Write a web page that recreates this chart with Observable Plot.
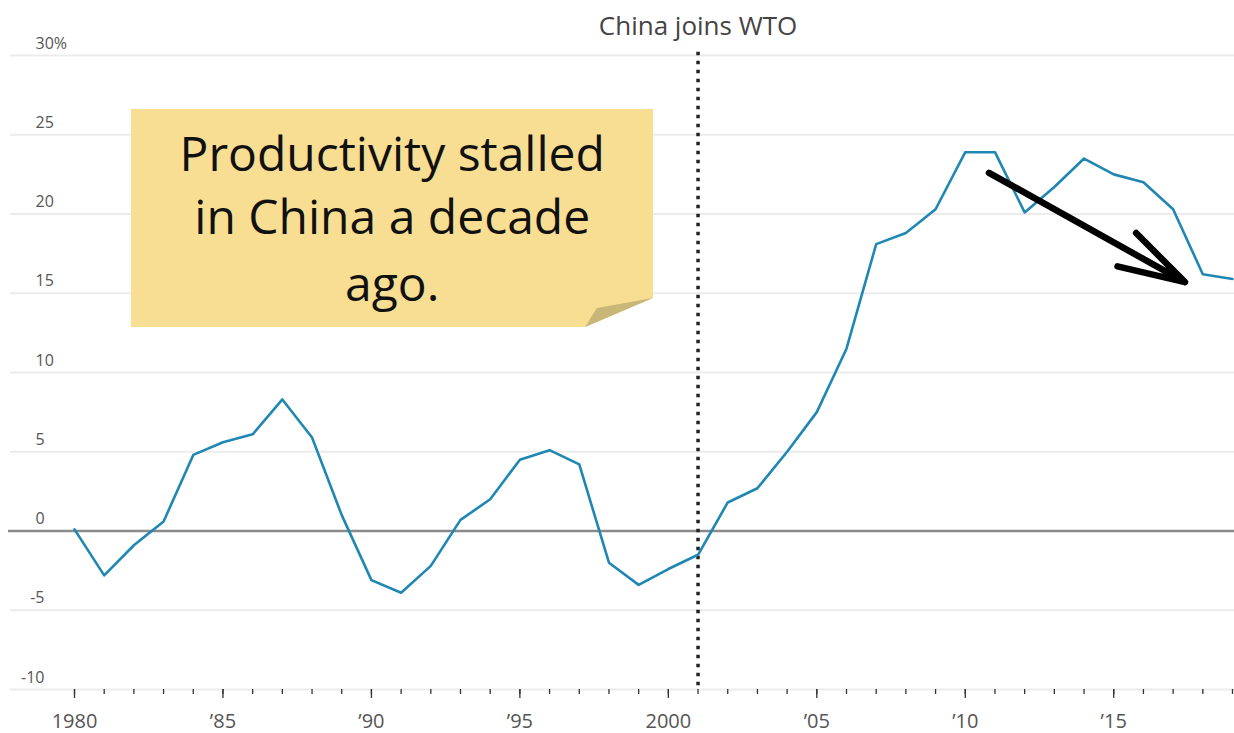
<!DOCTYPE html>
<html><head><meta charset="utf-8">
<script src="https://cdn.jsdelivr.net/npm/d3@7"></script>
<script src="https://cdn.jsdelivr.net/npm/@observablehq/plot@0.6"></script>
<style>
body{margin:0;background:#fff;}
#chart{width:1234px;height:733px;overflow:hidden;}
svg{font-family:"Open Sans",sans-serif;}
</style>
</head><body><div id="chart"></div>
<script>
// ---- data ----
const years = [1980,1981,1982,1983,1984,1985,1986,1987,1988,1989,1990,1991,1992,1993,1994,1995,1996,1997,1998,1999,
               2000,2001,2002,2003,2004,2005,2006,2007,2008,2009,2010,2011,2012,2013,2014,2015,2016,2017,2018,2019];
const values = [0.1,-2.8,-0.9,0.6,4.8,5.6,6.1,8.3,5.9,1.0,-3.1,-3.9,-2.2,0.7,2.0,4.5,5.1,4.2,-2.0,-3.4,
                -2.4,-1.5,1.8,2.7,5.0,7.5,11.5,18.1,18.8,20.3,23.9,23.9,20.1,21.7,23.5,22.5,22.0,20.3,16.2,15.9];
const yTicks = [-10,-5,0,5,10,15,20,25,30];
const yTickLabels = ["-10","-5","0","5","10","15","20","25","30%"];
const xMajor = [1980,1985,1990,1995,2000,2005,2010,2015];
const xMajorLabels = ["1980","\u201985","\u201990","\u201995","2000","\u201905","\u201910","\u201915"];
const xMinor = years;
const wtoYear = 2001;
const wtoLabel = "China joins WTO";
const noteLines = ["Productivity stalled","in China a decade","ago."];
const noteLineY = [23.7, 19.7, 15.5];
const noteCenterX = 1990.7;
// note outline (years / values) : x, bottom, top
const noteX = [1981.92, 1997.21, 1999.50];
const noteBottom = [12.84, 12.84, 14.67];
const noteTop = [26.59, 26.59, 26.59];
// folded corner
const foldX = [1997.21, 1997.61, 1999.50];
const foldY1 = [12.84, 13.16, 14.67];
const foldY2 = [12.84, 14.04, 14.67];
// hand-drawn arrow
const arrowX = [2010.8, 2017.4];
const arrowY = [22.6, 15.7];

// ---- build tables ----
const series = years.map((y, i) => ({year: y, value: values[i]}));
const yLab = yTicks.map((v, i) => ({v, label: yTickLabels[i]}));
const xLabMap = new Map(xMajor.map((y, i) => [y, xMajorLabels[i]]));
const noteArea = noteX.map((x, i) => ({x, b: noteBottom[i], t: noteTop[i]}));
const foldArea = foldX.map((x, i) => ({x, a: foldY1[i], b: foldY2[i]}));
const noteText = noteLines.map((t, i) => ({t, y: noteLineY[i]}));

const chart = Plot.plot({
  width: 1234,
  height: 733,
  marginLeft: 74,
  marginRight: 2,
  marginTop: 55,
  marginBottom: 44,
  x: {domain: [1980, 2019], axis: null},
  y: {domain: [-10, 30], axis: null},
  style: {fontFamily: "'Open Sans', sans-serif", background: "#fff", overflow: "visible"},
  marks: [
    Plot.ruleY(yTicks.filter(d => d !== 0), {stroke: "#ebebeb", strokeWidth: 2, insetLeft: -64, insetRight: -2}),
    Plot.areaY(noteArea, {x: "x", y1: "b", y2: "t", fill: "#f8de92", curve: "linear"}),
    Plot.areaY(foldArea, {x: "x", y1: "a", y2: "b", fill: "#c9b778", curve: "linear"}),
    Plot.text(noteText, {x: noteCenterX, y: "y", text: "t", fontSize: 48, fill: "#111", textAnchor: "middle", lineAnchor: "middle"}),
    Plot.ruleY([0], {stroke: "#8a8a8a", strokeWidth: 2.5, insetLeft: -66, insetRight: -2}),
    Plot.text(yLab.filter(d => d.v >= 0), {y: "v", text: "label", frameAnchor: "left", dx: -39, dy: -12, textAnchor: "start", fontSize: 16, fill: "#555"}),
    Plot.text(yLab.filter(d => d.v < 0), {y: "v", text: "label", frameAnchor: "left", dx: -30, dy: -12, textAnchor: "end", fontSize: 16, fill: "#555"}),
    Plot.axisX({ticks: xMinor, tickSize: 5, tickFormat: () => "", stroke: "#333", strokeWidth: 1.3}),
    Plot.axisX({ticks: xMajor, tickSize: 9, tickPadding: 15, tickFormat: d => xLabMap.get(d), stroke: "#333", strokeWidth: 1.3, fontSize: 20, color: "#555"}),
    Plot.ruleX([wtoYear], {y1: 30.2, y2: -10, stroke: "#222", strokeWidth: 3.5, strokeDasharray: "3.5,5.5"}),
    Plot.text([wtoLabel], {x: wtoYear, frameAnchor: "top", dy: -29, fontSize: 26, fill: "#444", lineAnchor: "middle"}),
    Plot.line(series, {x: "year", y: "value", stroke: "#1f87b2", strokeWidth: 2.6, curve: "linear"}),
    Plot.arrow([0], {x1: () => arrowX[0], y1: () => arrowY[0], x2: () => arrowX[1], y2: () => arrowY[1], stroke: "#000", strokeWidth: 6.5, headLength: 16, headAngle: 32})
  ]
});
document.getElementById("chart").appendChild(chart);
</script>
</body></html>
